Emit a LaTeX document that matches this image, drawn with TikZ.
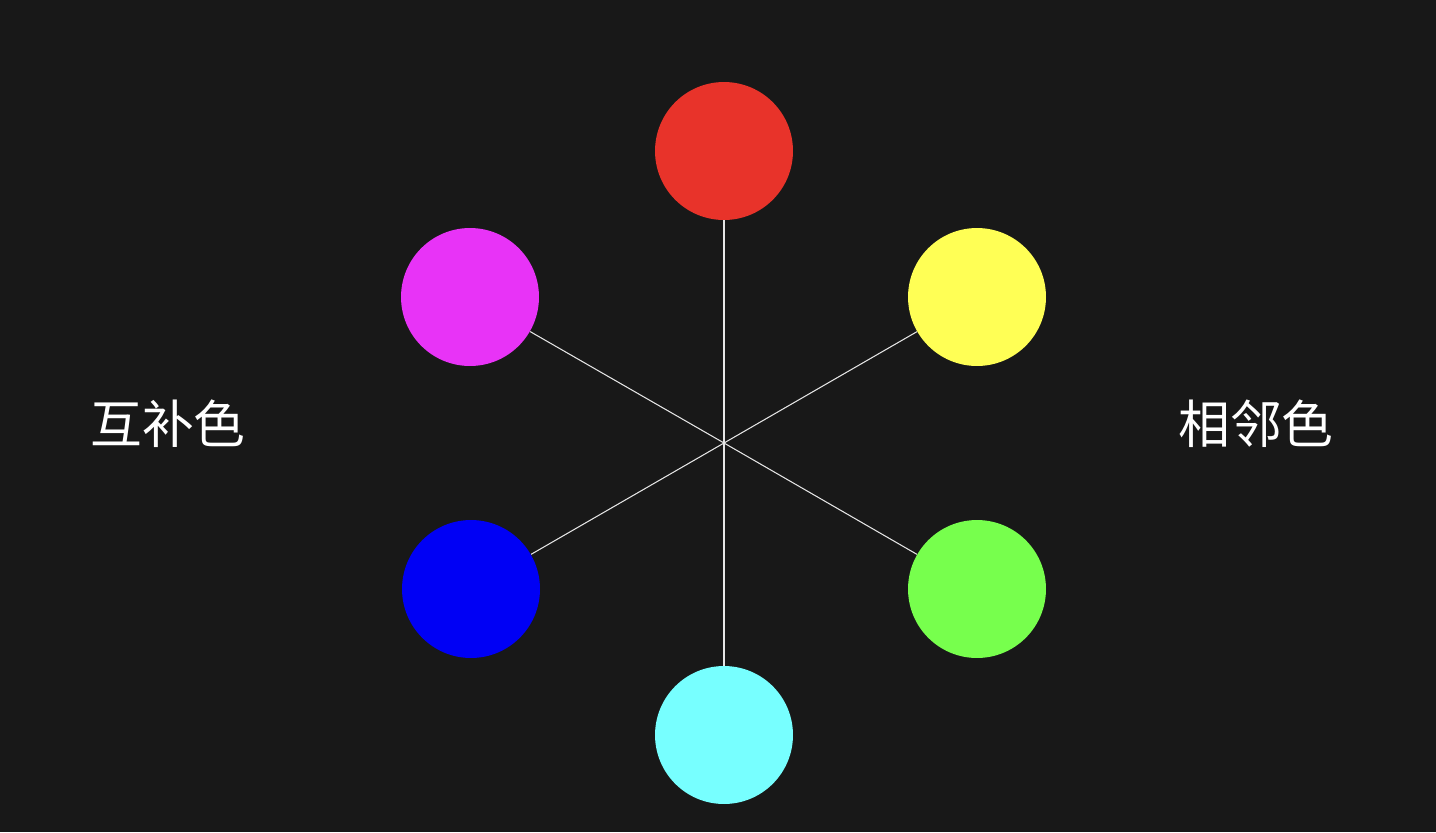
\documentclass[tikz,border=0pt]{standalone}
\usepackage{fontspec}
\newfontfamily\cjk{Noto Sans CJK SC}
\usetikzlibrary{backgrounds,positioning}
\definecolor{bgdark}{HTML}{181818}
\definecolor{wred}{HTML}{E8332A}
\definecolor{wmagenta}{HTML}{E833F7}
\definecolor{wyellow}{HTML}{FFFF55}
\definecolor{wblue}{HTML}{0000F5}
\definecolor{wgreen}{HTML}{77FF4D}
\definecolor{wcyan}{HTML}{77FFFF}
\tikzset{
  % farbkreis
  hue/.style={circle,draw=none,inner sep=0pt,minimum size=2.76cm},
  spoke/.style={draw=white!90!black,line width=0.6pt},
  lbl/.style={text=white,font=\cjk\fontsize{29.5}{31}\selectfont,inner sep=0pt},
}
\begin{document}
\begin{tikzpicture}[x=0.02cm,y=-0.02cm]
  \useasboundingbox (0,0) rectangle (1436,832);
  \coordinate (o) at (724,443);
  \node[hue,fill=wred] (r) at (724,151) {};
  \node[hue,fill=wyellow] (y) at (977,297) {};
  \node[hue,fill=wgreen] (g) at (977,589) {};
  \node[hue,fill=wcyan] (c) at (724,735) {};
  \node[hue,fill=wblue] (b) at (471,589) {};
  \node[hue,fill=wmagenta] (m) at (470,297) {};
  \begin{scope}[on background layer]
  \fill[bgdark] (0,0) rectangle (1436,832);
  \draw[spoke] (o) -- (r);
  \draw[spoke] (o) -- (y);
  \draw[spoke] (o) -- (g);
  \draw[spoke] (o) -- (c);
  \draw[spoke] (o) -- (b);
  \draw[spoke] (o) -- (m);
  \end{scope}
  \node[lbl] (comp) at (168,424) {互补色};
  \node[lbl] (adj) at (1256,424) {相邻色};
\end{tikzpicture}
\end{document}
